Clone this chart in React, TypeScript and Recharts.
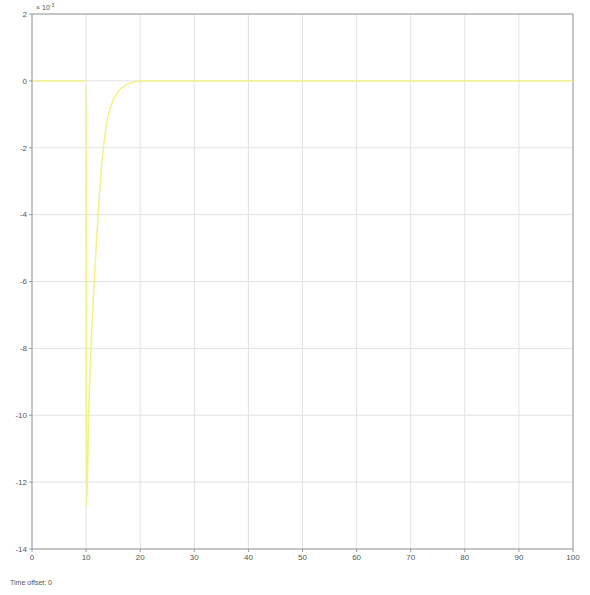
import { CartesianGrid, Line, LineChart, ReferenceLine, XAxis, YAxis } from 'recharts';

// scope trace, values in units of 1e-3
const times = [0, 10, 10.1, 10.5, 11, 11.5, 12, 12.5, 13, 13.5, 14, 15, 16, 17, 18, 19, 20, 100];
const values = [0, 0, -12.7, -9.8, -7.6, -6.0, -4.6, -3.3, -2.3, -1.6, -1.1, -0.57, -0.3, -0.16, -0.08, -0.03, 0, 0];
const xTicks = [0, 10, 20, 30, 40, 50, 60, 70, 80, 90, 100];
const yTicks = [-14, -12, -10, -8, -6, -4, -2, 0, 2];

const data = times.map((t, i) => ({ t, v: values[i] }));

const tickStyle = { fontSize: 8, fill: '#555', fontFamily: 'Liberation Sans, Arial, sans-serif' };

export default function App() {
  return (
    <div style={{ position: 'absolute', left: 0, top: 0, width: 590, height: 595, background: '#fff' }}>
      <LineChart width={590} height={595} data={data} margin={{ top: 14, right: 17, bottom: 26, left: 2 }}>
        <CartesianGrid stroke="#e2e2e2" strokeWidth={1} />
        <XAxis
          dataKey="t"
          type="number"
          domain={[0, 100]}
          ticks={xTicks}
          height={20}
          stroke="#999"
          tick={tickStyle}
          tickSize={3}
        />
        <YAxis
          type="number"
          domain={[-14, 2]}
          ticks={yTicks}
          width={30}
          stroke="#999"
          tick={tickStyle}
          tickSize={3}
        />
        <ReferenceLine y={2} stroke="#999" />
        <ReferenceLine x={100} stroke="#999" />
        <Line
          dataKey="v"
          type="monotone"
          stroke="#f2f286"
          strokeWidth={1.5}
          dot={false}
          isAnimationActive={false}
        />
      </LineChart>
      <div style={{ position: 'absolute', left: 36, top: 2, fontSize: 7, color: '#555', fontFamily: 'Liberation Sans, Arial, sans-serif' }}>
        × 10<sup style={{ fontSize: 5 }}>-3</sup>
      </div>
      <div style={{ position: 'absolute', left: 10, top: 579, fontSize: 7, color: '#555', fontFamily: 'Liberation Sans, Arial, sans-serif' }}>
        Time offset: 0
      </div>
    </div>
  );
}
